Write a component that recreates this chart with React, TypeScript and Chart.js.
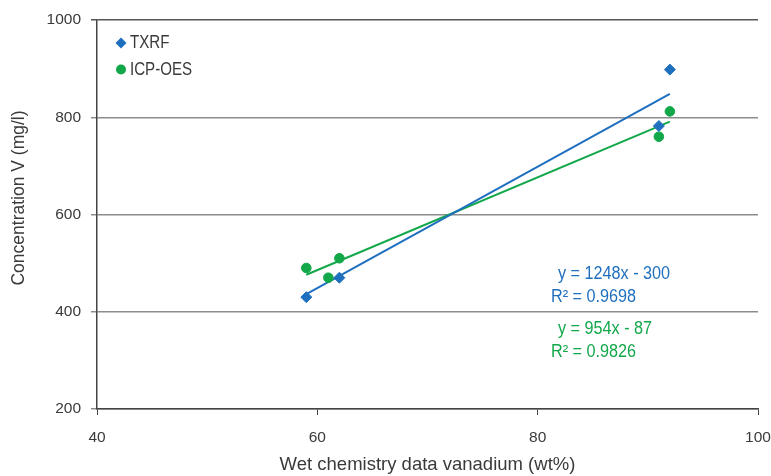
import React, { useEffect, useRef } from "react";
import { Chart, registerables } from "chart.js";

Chart.register(...registerables);

const txrfX = [59, 62, 91, 92];
const txrfY = [430, 470, 782, 898];
const icpX = [59, 61, 62, 91, 92];
const icpY = [490, 470, 510, 760, 812];
const txrfTrendX = [59, 92];
const txrfTrendY = [436, 848];
const icpTrendX = [59, 92];
const icpTrendY = [476, 791];
const xTicks = [40, 60, 80, 100];
const yTicks = [200, 400, 600, 800, 1000];
const seriesNames = ["TXRF", "ICP-OES"];
const txrfEq = ["y = 1248x - 300", "R² = 0.9698"];
const icpEq = ["y = 954x - 87", "R² = 0.9826"];
const xTitle = "Wet chemistry data vanadium (wt%)";
const yTitle = "Concentration V (mg/l)";

const BLUE = "#1f6fbf";
const GREEN = "#12a84a";
const TEXT = "#3a3a3a";
const FONT = "'Liberation Sans', Arial, sans-serif";

const pts = (xs: number[], ys: number[]) => xs.map((x, i) => ({ x, y: ys[i] }));

function narrowText(ctx: any, text: string, x: number, y: number, sx: number) {
  ctx.save();
  ctx.translate(x, y);
  ctx.scale(sx, 1);
  ctx.fillText(text, 0, 0);
  ctx.restore();
}

const overlay = {
  id: "overlay",
  afterDraw(chart: any) {
    const ctx = chart.ctx;
    const area = chart.chartArea;
    ctx.save();
    // legend
    const lx = area.left + 24;
    const items = [
      { name: seriesNames[0], color: BLUE, shape: "diamond", y: area.top + 23 },
      { name: seriesNames[1], color: GREEN, shape: "circle", y: area.top + 49.5 },
    ];
    ctx.font = `18px ${FONT}`;
    ctx.textBaseline = "middle";
    ctx.textAlign = "left";
    for (const it of items) {
      ctx.fillStyle = it.color;
      ctx.beginPath();
      if (it.shape === "diamond") {
        const r = 5.5;
        ctx.moveTo(lx, it.y - r);
        ctx.lineTo(lx + r, it.y);
        ctx.lineTo(lx, it.y + r);
        ctx.lineTo(lx - r, it.y);
        ctx.closePath();
      } else {
        ctx.arc(lx, it.y, 5, 0, Math.PI * 2);
      }
      ctx.fill();
      ctx.fillStyle = TEXT;
      narrowText(ctx, it.name, lx + 9, it.y + 0.5, 0.84);
    }
    // equations
    ctx.font = `18px ${FONT}`;
    ctx.fillStyle = BLUE;
    narrowText(ctx, txrfEq[0], 558, 274.5, 0.9);
    narrowText(ctx, txrfEq[1], 551, 297.5, 0.9);
    ctx.fillStyle = GREEN;
    narrowText(ctx, icpEq[0], 558, 329, 0.9);
    narrowText(ctx, icpEq[1], 551, 352.5, 0.9);
    // y title
    ctx.translate(19, 198);
    ctx.rotate(-Math.PI / 2);
    ctx.textAlign = "center";
    ctx.fillStyle = TEXT;
    ctx.font = `17.5px ${FONT}`;
    ctx.fillText(yTitle, 0, 0);
    ctx.restore();
  },
};

export default function App() {
  const ref = useRef<HTMLCanvasElement>(null);
  useEffect(() => {
    document.body.style.margin = "0";
    const chart = new Chart(ref.current!, {
      type: "scatter",
      data: {
        datasets: [
          {
            label: seriesNames[0],
            data: pts(txrfX, txrfY),
            backgroundColor: BLUE,
            borderColor: BLUE,
            pointStyle: "rectRot",
            pointRadius: 5.5,
            order: 0,
          },
          {
            label: seriesNames[1],
            data: pts(icpX, icpY),
            backgroundColor: GREEN,
            borderColor: GREEN,
            pointStyle: "circle",
            pointRadius: 4.8,
            order: 0,
          },
          {
            label: "TXRF trend",
            type: "line",
            data: pts(txrfTrendX, txrfTrendY),
            borderColor: BLUE,
            borderWidth: 2,
            pointRadius: 0,
            order: 1,
          },
          {
            label: "ICP trend",
            type: "line",
            data: pts(icpTrendX, icpTrendY),
            borderColor: GREEN,
            borderWidth: 2,
            pointRadius: 0,
            order: 1,
          },
        ],
      },
      options: {
        animation: false,
        responsive: false,
        maintainAspectRatio: false,
        layout: { padding: { top: 20, right: 0, left: 0, bottom: 0 } },
        plugins: { legend: { display: false }, tooltip: { enabled: false } },
        scales: {
          x: {
            type: "linear",
            min: 40,
            max: 100,
            afterBuildTicks: (s: any) => {
              s.ticks = xTicks.map((v) => ({ value: v }));
            },
            afterFit: (s: any) => {
              s.height = 67;
              s.paddingRight = 13;
              s.paddingLeft = 0;
            },
            grid: {
              drawOnChartArea: false,
              drawTicks: true,
              tickLength: 6,
              color: "#444",
            },
            border: { color: "#444", width: 1.5 },
            ticks: {
              color: TEXT,
              font: { size: 15.5, family: FONT },
              padding: 13,
              callback: (v: any) => String(v),
            },
            title: {
              display: true,
              text: xTitle,
              color: TEXT,
              font: { size: 18.5, family: FONT },
              padding: { top: 10, bottom: 0 },
            },
          },
          y: {
            type: "linear",
            min: 200,
            max: 1000,
            afterBuildTicks: (s: any) => {
              s.ticks = yTicks.map((v) => ({ value: v }));
            },
            afterFit: (s: any) => {
              s.width = 97;
            },
            grid: {
              drawTicks: true,
              tickLength: 6,
              color: (c: any) => (c.tick && c.tick.value === 1000 ? "#555" : "#8c8c8c"),
              lineWidth: 1.5,
            },
            border: { color: "#444", width: 1.5 },
            ticks: {
              color: TEXT,
              font: { size: 15.5, family: FONT },
              padding: 10,
              callback: (v: any) => String(v),
            },
            title: { display: false },
          },
        },
      },
      plugins: [overlay],
    } as any);
    return () => chart.destroy();
  }, []);
  return (
    <div style={{ position: "relative", width: 771, height: 476 }}>
      <canvas ref={ref} width={771} height={476} style={{ display: "block" }} />
    </div>
  );
}
